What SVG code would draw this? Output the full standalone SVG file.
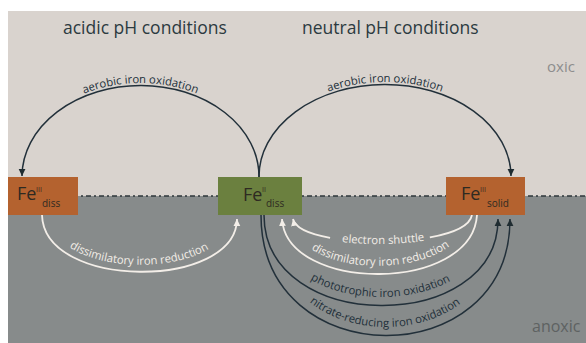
<svg xmlns="http://www.w3.org/2000/svg" width="586" height="343" viewBox="0 0 586 343">
<style>
.title{font-family:"Open Sans","Noto Sans",sans-serif;font-size:17.5px;fill:#2c3a40}
.lbl{font-family:"Open Sans","Noto Sans",sans-serif;font-size:11.3px}
.dk{fill:#22303a}
.wt{fill:#f3eee8}
.dl{fill:none;stroke:#22303a;stroke-width:1.5}
.wl{fill:none;stroke:#f3eee8;stroke-width:1.8}
.fe{font-family:"Open Sans","Noto Sans",sans-serif;fill:#2e2a22}
.zone{font-family:"Open Sans","Noto Sans",sans-serif}
</style>
<defs>
<marker id="ad" markerWidth="8" markerHeight="8" refX="7" refY="4" orient="auto" markerUnits="userSpaceOnUse"><path d="M0,0.6 L7,4 L0,7.4 Z" fill="#1f2c31"/></marker>
<marker id="aw" markerWidth="8" markerHeight="8" refX="7" refY="4" orient="auto" markerUnits="userSpaceOnUse"><path d="M0,0.6 L7,4 L0,7.4 Z" fill="#f3eee8"/></marker>
<path id="tpL" d="M19,177 A121.5,94 0 0 1 262,177"/>
<path id="tpR" d="M256,177 A129,95 0 0 1 514,177"/>
<path id="tpWL" d="M50,215 C50,281 229,281 229,217"/>
<path id="tpES" d="M293,222 C300,252 465,252 472,218"/>
<path id="tpWR" d="M292,219 C296,282 463,282 468,215"/>
<path id="tpPh" d="M271,215 C271,324 491,324 491,217"/>
<path id="tpNi" d="M269,215 C269,364 502,364 502,217"/>
</defs>
<rect x="0" y="0" width="586" height="343" fill="#ffffff"/>
<rect x="8" y="11" width="578" height="185" fill="#d9d3ce"/>
<rect x="8" y="196" width="578" height="147" fill="#878b8b"/>
<line x1="8" y1="196" x2="586" y2="196" stroke="#2e373b" stroke-width="1.6" stroke-dasharray="5 3 2 3"/>

<text class="title" x="63" y="34">acidic pH conditions</text>
<text class="title" x="302" y="34">neutral pH conditions</text>
<text class="zone" x="547" y="72" font-size="15" fill="#8d8d8d">oxic</text>
<text class="zone" x="532" y="332" font-size="16" fill="#5e6262">anoxic</text>

<g id="connectors">
<path class="dl" d="M259,177 A118.5,91 0 0 0 22,176" marker-end="url(#ad)"/>
<path class="dl" d="M259,177 A126,92 0 0 1 511,176" marker-end="url(#ad)"/>
<path class="wl" d="M42,215 C44,290 236,290 237,219" marker-end="url(#aw)"/>
<path class="wl" d="M472,215 C465,250 300,250 293,219" stroke-dasharray="50 100 60" marker-end="url(#aw)"/>
<path class="wl" d="M477,215 C472,293 287,293 282,219" marker-end="url(#aw)"/>
<path class="dl" d="M264,215 C264,335 498,335 498,219" marker-end="url(#ad)"/>
<path class="dl" d="M261,215 C261,375 510,375 510,219" marker-end="url(#ad)"/>
<text class="lbl dk"><textPath href="#tpL" startOffset="50%" text-anchor="middle">aerobic iron oxidation</textPath></text>
<text class="lbl dk"><textPath href="#tpR" startOffset="50%" text-anchor="middle">aerobic iron oxidation</textPath></text>
<text class="lbl wt"><textPath href="#tpWL" startOffset="50%" text-anchor="middle">dissimilatory iron reduction</textPath></text>
<text class="lbl wt"><textPath href="#tpES" startOffset="50%" text-anchor="middle">electron shuttle</textPath></text>
<text class="lbl wt"><textPath href="#tpWR" startOffset="50%" text-anchor="middle">dissimilatory iron reduction</textPath></text>
<text class="lbl dk"><textPath href="#tpPh" startOffset="50%" text-anchor="middle">phototrophic iron oxidation</textPath></text>
<text class="lbl dk"><textPath href="#tpNi" startOffset="50%" text-anchor="middle">nitrate-reducing iron oxidation</textPath></text>
</g>

<g id="fe3diss">
<rect x="8" y="177" width="70" height="38" fill="#b4622f"/>
<text class="fe" x="17" y="200" font-size="18">Fe</text>
<text class="fe" x="36" y="192" font-size="7">III</text>
<text class="fe" x="42" y="207" font-size="10">diss</text>
</g>
<g id="fe2diss">
<rect x="218" y="177" width="84" height="38" fill="#6b803f"/>
<text class="fe" x="243" y="201" font-size="18">Fe</text>
<text class="fe" x="262" y="192" font-size="7">II</text>
<text class="fe" x="266" y="207" font-size="10">diss</text>
</g>
<g id="fe3solid">
<rect x="446" y="177" width="79" height="38" fill="#b4622f"/>
<text class="fe" x="461" y="200" font-size="18">Fe</text>
<text class="fe" x="480" y="192" font-size="7">III</text>
<text class="fe" x="487" y="207" font-size="10">solid</text>
</g>
</svg>
